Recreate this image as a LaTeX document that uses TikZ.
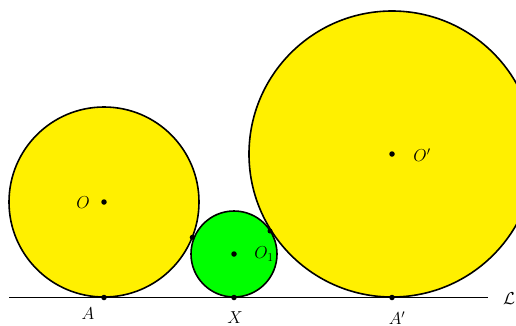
\documentclass[tikz,border=0pt]{standalone}
\usetikzlibrary{calc}
\definecolor{cyel}{RGB}{255,240,0}
\definecolor{cgrn}{RGB}{0,255,0}
\begin{document}
\begin{tikzpicture}[x=1pt,y=-1pt,
  circ/.style={draw=black,line width=1.6pt},
  pdot/.style={circle,fill=black,inner sep=0pt,minimum size=5.5pt},
  lbl/.style={font=\fontsize{17}{20}\selectfont,inner sep=0pt}]
\useasboundingbox (0,0) rectangle (516,325);
\clip (0,0) rectangle (516,325);
\coordinate (O) at (104,202);
\coordinate (O1) at (234,254);
\coordinate (Op) at (392,154);
\draw[circ,fill=cyel] (O) circle (95);
\draw[circ,fill=cyel] (Op) circle (143);
\draw[circ,fill=cgrn] (O1) circle (43);
\coordinate (L1) at (9,297.5);
\coordinate (L2) at (488,297.5);
\draw[line width=1.6pt] (L1) -- (L2);
\node[pdot] (dO) at (O) {};
\node[pdot] (dO1) at (O1) {};
\node[pdot] (dOp) at (Op) {};
\node[pdot] (A) at (104,297.5) {};
\node[pdot] (X) at (234,297.5) {};
\node[pdot] (Ap) at (392,297.5) {};
\node[pdot,minimum size=5pt] (T1) at ($(O)!95/140!(O1)$) {};
\node[pdot,minimum size=5pt] (T2) at (270,231) {};
\node[lbl] (lO) at (83,203) {$O$};
\node[lbl] (lO1) at (264,254) {$O_1$};
\node[lbl] (lOp) at (422,155) {$O'$};
\node[lbl] (lA) at (88,314) {$A$};
\node[lbl] (lX) at (235,318) {$X$};
\node[lbl] (lAp) at (397,318) {$A'$};
\node[lbl] (lL) at (509,299) {$\mathcal{L}$};
\end{tikzpicture}
\end{document}
